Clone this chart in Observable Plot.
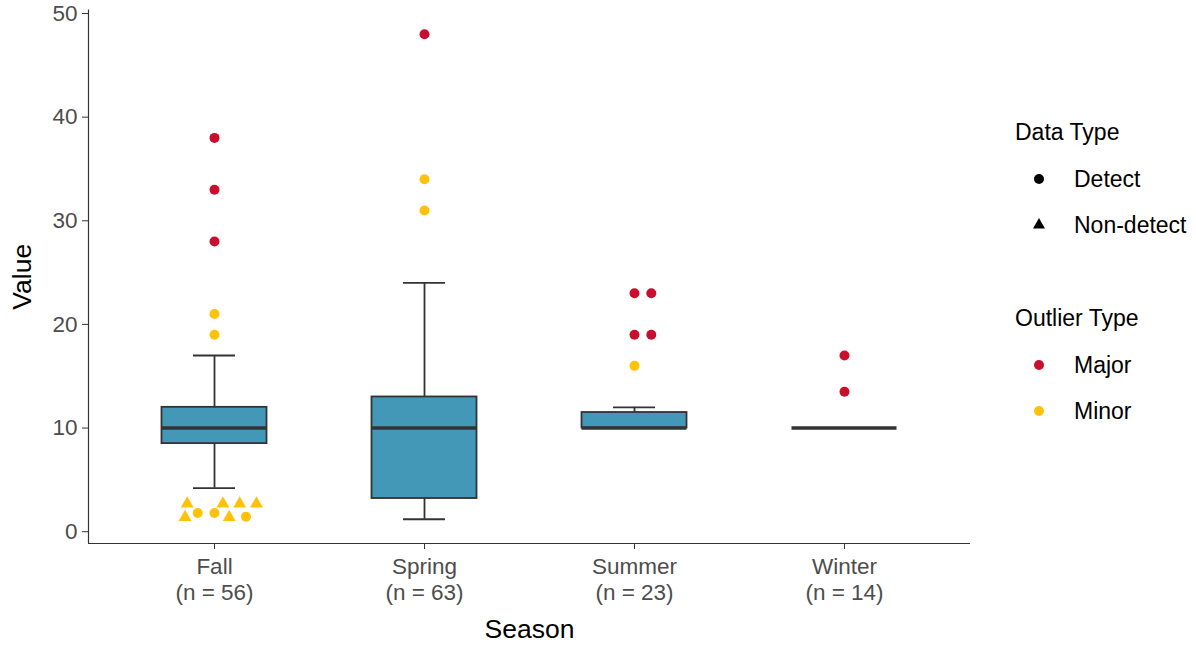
<!DOCTYPE html>
<html><head><meta charset="utf-8">
<script src="https://cdn.jsdelivr.net/npm/d3@7"></script>
<script src="https://cdn.jsdelivr.net/npm/@observablehq/plot@0.6"></script>
<style>
body{margin:0;background:#fff;font-family:"Liberation Sans",Arial,sans-serif;}
#wrap{position:relative;width:1196px;height:646px;overflow:hidden;}
#legend{position:absolute;left:0;top:0;pointer-events:none;}
</style></head><body><div id="wrap"></div>
<script>
// ---- data ----
const seasons = ["Fall", "Spring", "Summer", "Winter"];
const counts = [56, 63, 23, 14];
const q1 = [8.5, 3.2, 10, 10];
const medians = [10, 10, 10, 10];
const q3 = [12, 13, 11.5, 10];
const whiskerLow = [4.2, 1.2, 10, 10];
const whiskerHigh = [17, 24, 12, 10];

const outlierSeason = ["Fall","Fall","Fall","Fall","Fall","Fall","Fall","Fall","Fall","Fall","Fall","Fall","Fall","Fall",
  "Spring","Spring","Spring",
  "Summer","Summer","Summer","Summer","Summer",
  "Winter","Winter"];
const outlierValue = [38, 33, 28, 21, 19, 2.7, 2.7, 2.7, 2.7, 1.4, 1.4, 1.8, 1.8, 1.45,
  48, 34, 31,
  23, 23, 19, 19, 16,
  17, 13.5];
const outlierType = ["Major","Major","Major","Minor","Minor","Minor","Minor","Minor","Minor","Minor","Minor","Minor","Minor","Minor",
  "Major","Minor","Minor",
  "Major","Major","Major","Major","Minor",
  "Major","Major"];
const outlierDataType = ["Detect","Detect","Detect","Detect","Detect","Non-detect","Non-detect","Non-detect","Non-detect","Non-detect","Non-detect","Detect","Detect","Detect",
  "Detect","Detect","Detect",
  "Detect","Detect","Detect","Detect","Detect",
  "Detect","Detect"];
const outlierJitter = [0, 0, 0, 0, 0, -0.13, 0.04, 0.12, 0.20, -0.14, 0.07, -0.08, 0.0, 0.15,
  0, 0, 0,
  0, 0.08, 0, 0.08, 0,
  0, 0];

const yTicks = [0, 10, 20, 30, 40, 50];
const outlierTypes = ["Major", "Minor"];
const outlierColors = ["#C8102E", "#FFC20A"];
const dataTypes = ["Detect", "Non-detect"];
const dataSymbols = ["circle", "triangle"];

// ---- derived tables ----
const boxes = seasons.map((s, i) => ({i: i + 1, season: s, n: counts[i], q1: q1[i], med: medians[i], q3: q3[i], lo: whiskerLow[i], hi: whiskerHigh[i]}));
const outliers = outlierSeason.map((s, k) => ({
  x: seasons.indexOf(s) + 1 + outlierJitter[k],
  value: outlierValue[k], type: outlierType[k], dtype: outlierDataType[k]
}));

const xDomain = [0.4, 4.6];
const yDomain = [-1.14, 50.34];
const boxHalf = 0.25, capHalf = 0.1;
const dark = "#333333";
const tickFont = 22.5;

const plot = Plot.plot({
  width: 1196, height: 646,
  marginLeft: 88, marginRight: 226, marginTop: 9.5, marginBottom: 103,
  style: {fontFamily: "'Liberation Sans', Arial, sans-serif", fontSize: tickFont + "px", background: "white", overflow: "visible"},
  x: {domain: xDomain, label: null},
  y: {domain: yDomain, label: null},
  color: {domain: outlierTypes, range: outlierColors},
  symbol: {domain: dataTypes, range: dataSymbols},
  r: {type: "identity"},
  marks: [
    Plot.axisY({ticks: yTicks, tickSize: 6, tickPadding: 5, stroke: dark, fill: "#4D4D4D", fontSize: tickFont, label: null}),
    Plot.axisX({ticks: boxes.map(d => d.i), tickFormat: d => `${seasons[d - 1]}\n(n = ${counts[d - 1]})`,
      tickSize: 6, tickPadding: 6, stroke: dark, fill: "#4D4D4D", fontSize: tickFont, lineHeight: 1.15, label: null}),
    Plot.ruleX([xDomain[0]], {stroke: dark, strokeWidth: 1.2}),
    Plot.ruleY([yDomain[0]], {stroke: dark, strokeWidth: 1.2}),
    // whiskers
    Plot.ruleX(boxes, {x: "i", y1: "q3", y2: "hi", stroke: dark, strokeWidth: 1.8}),
    Plot.ruleX(boxes, {x: "i", y1: "lo", y2: "q1", stroke: dark, strokeWidth: 1.8}),
    Plot.ruleY(boxes, {y: "hi", x1: d => d.i - capHalf, x2: d => d.i + capHalf, stroke: dark, strokeWidth: 1.8}),
    Plot.ruleY(boxes, {y: "lo", x1: d => d.i - capHalf, x2: d => d.i + capHalf, stroke: dark, strokeWidth: 1.8}),
    // boxes
    Plot.rect(boxes, {x1: d => d.i - boxHalf, x2: d => d.i + boxHalf, y1: "q1", y2: "q3", fill: "#4398B7", stroke: dark, strokeWidth: 1.8}),
    Plot.ruleY(boxes, {y: "med", x1: d => d.i - boxHalf, x2: d => d.i + boxHalf, stroke: dark, strokeWidth: 3.6}),
    // outliers
    Plot.dot(outliers, {x: "x", y: "value", fill: "type", symbol: "dtype", r: d => d.dtype === "Detect" ? 5 : 4.8, stroke: "none"}),
    // axis titles
    Plot.text(["Value"], {frameAnchor: "left", dx: -66, rotate: -90, textAnchor: "middle", lineAnchor: "middle", fontSize: 26.5, fill: "black"}),
    Plot.text(["Season"], {frameAnchor: "bottom", dy: 86, textAnchor: "middle", lineAnchor: "middle", fontSize: 26.5, fill: "black"})
  ]
});

const wrap = document.getElementById("wrap");
wrap.appendChild(plot);

// ---- legend ----
const lg = d3.select(wrap).append("svg").attr("id", "legend").attr("width", 1196).attr("height", 646)
  .style("font-family", "'Liberation Sans', Arial, sans-serif");
const groups = [
  {title: "Data Type", y: 132, items: dataTypes.map((t, k) => ({label: t, sym: dataSymbols[k], color: "black"}))},
  {title: "Outlier Type", y: 318, items: outlierTypes.map((t, k) => ({label: t, sym: "circle", color: outlierColors[k]}))}
];
for (const g of groups) {
  lg.append("text").attr("x", 1015).attr("y", g.y).attr("dy", "0.35em").attr("font-size", 23).attr("fill", "black").text(g.title);
  g.items.forEach((it, k) => {
    const cy = g.y + 47 + k * 46;
    const sym = it.sym === "circle" ? d3.symbolCircle : d3.symbolTriangle;
    const size = it.sym === "circle" ? Math.PI * 5 * 5 : 62;
    lg.append("path").attr("transform", `translate(1039,${cy})`).attr("d", d3.symbol(sym, size)()).attr("fill", it.color);
    lg.append("text").attr("x", 1074).attr("y", cy).attr("dy", "0.35em").attr("font-size", 23).attr("fill", "black").text(it.label);
  });
}
</script></body></html>
